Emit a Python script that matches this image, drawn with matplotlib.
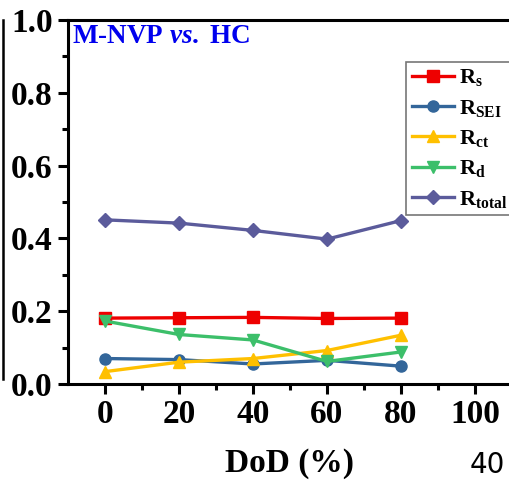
import matplotlib
matplotlib.use("Agg")
import matplotlib.pyplot as plt
from matplotlib.lines import Line2D

plt.rcParams['font.family'] = ['Liberation Serif', 'DejaVu Serif']
plt.rcParams['mathtext.fontset'] = 'custom'
plt.rcParams['mathtext.rm'] = 'Liberation Serif:bold'
plt.rcParams['mathtext.bf'] = 'Liberation Serif:bold'
plt.rcParams['mathtext.it'] = 'Liberation Serif:bold:italic'

dod = [0, 20, 40, 60, 80]
r_s = [0.181, 0.182, 0.183, 0.180, 0.181]
r_sei = [0.070, 0.067, 0.055, 0.065, 0.049]
r_ct = [0.034, 0.060, 0.070, 0.092, 0.134]
r_d = [0.173, 0.136, 0.121, 0.062, 0.088]
r_total = [0.451, 0.442, 0.422, 0.398, 0.449]

series = [
    (r_s, r'$\mathbf{R_s}$', '#EE0000', 's'),
    (r_sei, r'$\mathbf{R_{SEI}}$', '#33669A', 'o'),
    (r_ct, r'$\mathbf{R_{ct}}$', '#FFC000', '^'),
    (r_d, r'$\mathbf{R_d}$', '#3CBF6A', 'v'),
    (r_total, r'$\mathbf{R_{total}}$', '#5B5B9B', 'D'),
]

fig = plt.figure(figsize=(5.1, 4.8), dpi=100)
ax = fig.add_axes([0.1333, 0.2, 0.8706, 0.7583])

for vals, label, color, marker in series:
    ms = 7 if marker == 'D' else 8
    ax.plot(dod, vals, color=color, marker=marker, markersize=ms, linewidth=2.4,
            label=label)

ax.set_xlim(-10, 110)
ax.set_ylim(0, 1.0)
ax.set_xticks([0, 20, 40, 60, 80, 100])
ax.set_xticks([10, 30, 50, 70, 90, 110], minor=True)
ax.set_yticks([0.0, 0.2, 0.4, 0.6, 0.8, 1.0])
ax.set_yticks([0.1, 0.3, 0.5, 0.7, 0.9], minor=True)
ax.set_yticklabels([f'{v:.1f}' for v in [0.0, 0.2, 0.4, 0.6, 0.8, 1.0]])

for sp in ax.spines.values():
    sp.set_linewidth(2.2)
ax.tick_params(which='major', direction='out', length=7, width=2.2,
               labelsize=24, pad=4)
ax.tick_params(which='minor', direction='out', length=4, width=2.2)
for lab in ax.get_xticklabels() + ax.get_yticklabels():
    lab.set_fontweight('bold')

ax.set_xlabel('DoD (%)', fontsize=24, fontweight='bold', labelpad=13)

ax.text(0.01, 0.99, r'M-NVP $\mathit{vs.}$ HC', transform=ax.transAxes,
        color='#0000EE', fontsize=19.5, fontweight='bold', va='top', ha='left')

leg = ax.legend(loc='upper left', bbox_to_anchor=(0.762, 0.885), fontsize=16,
                frameon=True, fancybox=False, edgecolor='#555555',
                handlelength=1.9, handletextpad=0.2, labelspacing=0.42,
                borderpad=0.25, borderaxespad=0)
leg.get_frame().set_linewidth(1.2)

# edge of the neighbouring panel
fig.add_artist(Line2D([0.006, 0.006], [0.21, 0.958], transform=fig.transFigure,
                      color='black', linewidth=1.8))

fig.text(0.955, 0.002, '40', fontsize=20, family='DejaVu Sans',
         ha='center', va='bottom')

fig.savefig('out.png', dpi=100)
